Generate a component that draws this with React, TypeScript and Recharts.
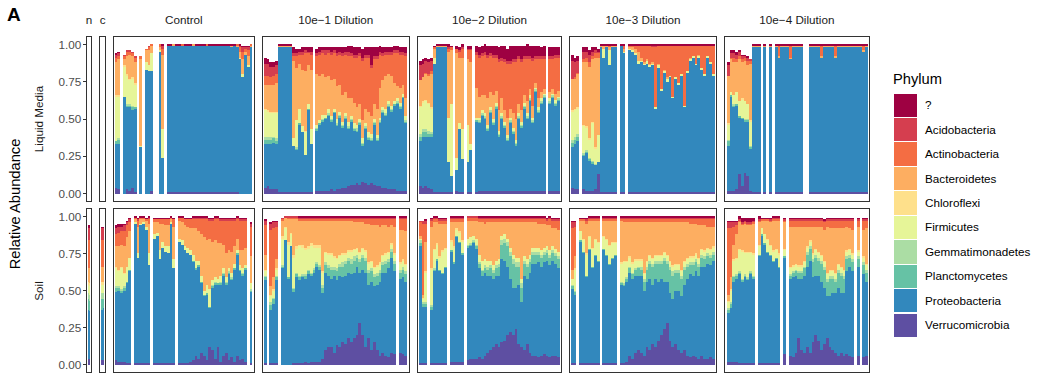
import { BarChart, Bar, XAxis, YAxis } from 'recharts';

// stack order, bottom to top; each bar below is a tuple in this order (percent)
const PHYLA = [
  'Verrucomicrobia',
  'Proteobacteria',
  'Planctomycetes',
  'Gemmatimonadetes',
  'Firmicutes',
  'Chloroflexi',
  'Bacteroidetes',
  'Actinobacteria',
  'Acidobacteria',
  '?',
];
const COLORS = ['#5E4FA2', '#3288BD', '#66C2A5', '#ABDDA4', '#E6F598', '#FEE08B', '#FDAE61', '#F46D43', '#D53E4F', '#9E0142'];

const FACETS = ['n', 'c', 'Control', '10e\u22121 Dilution', '10e\u22122 Dilution', '10e\u22123 Dilution', '10e\u22124 Dilution'];
const ROWS = ['Liquid Media', 'Soil'];
const Y_TICKS = [0, 0.25, 0.5, 0.75, 1];

const G: number[] = []; // missing sample

const liquidN = [G, G];
const liquidC = [G, G];
const liquidControl = [
  [4, 29, 2, 0, 30, 1, 22, 3, 2, 1], [3, 30, 3, 1, 28, 1, 24, 2, 2, 1], G, [0, 65, 0, 0, 20, 1, 4, 2, 1, 0],
  [3, 55, 1, 1, 19, 1, 12, 3, 1, 0], [2, 56, 1, 1, 16, 1, 16, 2, 1, 0], [4, 52, 2, 1, 18, 1, 14, 2, 1, 0],
  [1, 56, 1, 0, 15, 1, 14, 3, 1, 0], G, [0, 31, 0, 0, 1, 0, 58, 2, 0, 0], G, [0, 83, 0, 0, 5, 0, 8, 1, 0, 0],
  [0, 82, 0, 0, 4, 0, 10, 2, 1, 0], [2, 80, 0, 0, 12, 0, 5, 1, 0, 0], G, G, [0, 95, 0, 0, 1, 0, 2, 2, 0, 0],
  [0, 24, 0, 0, 19, 0, 50, 4, 2, 1], G,
  [1, 98, 0, 0, 0, 0, 0, 0, 0, 1], [1, 98, 0, 0, 0, 0, 0, 0, 0, 1], [1, 98, 0, 0, 0, 0, 1, 0, 0, 0],
  [1, 98, 0, 0, 0, 0, 0, 0, 0, 1], [1, 98, 0, 0, 0, 0, 0, 0, 0, 1], [1, 98, 0, 0, 0, 0, 0, 1, 0, 0],
  [1, 98, 0, 0, 0, 0, 0, 0, 0, 1], [1, 98, 0, 0, 0, 0, 0, 0, 0, 1], [1, 98, 0, 0, 0, 0, 0, 0, 0, 1],
  [1, 98, 0, 0, 0, 0, 1, 0, 0, 0], [1, 98, 0, 0, 0, 0, 0, 0, 0, 1], [1, 98, 0, 0, 0, 0, 0, 0, 0, 1],
  [1, 98, 0, 0, 0, 0, 0, 0, 0, 1], [1, 98, 0, 0, 0, 0, 0, 0, 0, 1], [1, 98, 0, 0, 0, 0, 0, 1, 0, 0],
  [1, 98, 0, 0, 0, 0, 0, 0, 0, 1], [1, 98, 0, 0, 0, 0, 0, 0, 0, 1], [1, 98, 0, 0, 0, 0, 0, 0, 0, 1],
  [1, 98, 0, 0, 0, 0, 0, 0, 0, 1], [1, 98, 0, 0, 0, 0, 0, 0, 0, 1], [1, 98, 0, 0, 0, 0, 0, 0, 0, 1],
  [1, 98, 0, 0, 0, 0, 0, 0, 0, 1], [1, 98, 0, 0, 0, 0, 0, 0, 0, 1], [1, 97, 0, 0, 0, 0, 1, 0, 0, 1],
  [1, 98, 0, 0, 0, 0, 0, 0, 0, 1],
  [1, 97, 0, 0, 0, 0, 1, 1, 0, 0], [0, 90, 0, 0, 1, 0, 4, 3, 1, 1], [0, 78, 0, 0, 2, 0, 10, 5, 3, 1],
  [0, 93, 0, 0, 0, 0, 2, 2, 1, 1], [0, 85, 0, 0, 1, 0, 6, 4, 2, 1], [0, 98, 0, 0, 0, 0, 1, 1, 0, 0],
];
const liquidD1 = [
  [4, 29, 3, 2, 18, 1, 16, 6, 8, 4], [5, 28, 3, 2, 17, 1, 17, 6, 8, 3], [3, 30, 3, 2, 16, 1, 18, 5, 7, 3],
  [3, 31, 3, 1, 16, 1, 18, 6, 6, 3], [3, 30, 2, 2, 17, 1, 19, 6, 6, 3],
  [1, 97, 0, 0, 0, 0, 1, 0, 0, 1], [1, 97, 0, 0, 0, 0, 1, 0, 0, 1], [1, 97, 0, 0, 0, 0, 1, 0, 0, 1],
  [1, 97, 0, 0, 0, 0, 1, 0, 0, 1], [1, 97, 0, 0, 0, 0, 1, 0, 0, 1],
  [1, 31, 0, 0, 5, 0, 52, 3, 2, 4], [1, 28, 1, 1, 18, 0, 35, 8, 2, 3], [1, 45, 1, 0, 10, 0, 30, 6, 2, 2],
  [1, 40, 0, 0, 4, 0, 38, 10, 2, 3], [1, 25, 0, 0, 15, 1, 40, 12, 2, 2], [1, 55, 1, 0, 3, 0, 26, 8, 1, 3],
  [1, 32, 0, 0, 10, 0, 40, 10, 2, 3], G,
  [2, 40, 1, 1, 2, 0, 34, 12, 2, 3], [2, 44, 1, 0, 2, 0, 30, 14, 2, 3], [2, 46, 1, 1, 3, 0, 27, 14, 2, 2],
  [2, 48, 1, 0, 2, 0, 25, 15, 3, 2], [2, 50, 1, 1, 3, 0, 22, 15, 2, 2], [3, 45, 1, 1, 2, 0, 24, 17, 2, 3],
  [2, 52, 1, 0, 2, 0, 20, 17, 2, 2], [3, 42, 1, 1, 3, 0, 22, 20, 2, 4], [3, 48, 1, 1, 2, 0, 18, 20, 2, 3],
  [4, 40, 1, 1, 2, 0, 18, 26, 2, 4], [4, 46, 1, 1, 2, 0, 14, 25, 2, 3], [5, 38, 1, 1, 3, 0, 16, 28, 3, 4],
  [6, 42, 1, 1, 2, 0, 12, 28, 2, 5], [6, 36, 1, 1, 3, 0, 14, 30, 2, 5], [7, 34, 1, 2, 2, 0, 12, 33, 2, 5],
  [6, 40, 1, 1, 2, 0, 10, 32, 2, 4], [8, 24, 1, 1, 3, 0, 12, 40, 2, 6], [7, 36, 1, 1, 2, 0, 10, 34, 2, 5],
  [6, 30, 1, 1, 3, 0, 14, 36, 2, 5], [7, 28, 1, 1, 3, 0, 12, 32, 2, 12], [6, 40, 1, 1, 2, 0, 10, 30, 2, 6],
  [5, 30, 1, 1, 2, 0, 18, 33, 2, 6], [5, 42, 1, 1, 2, 0, 20, 22, 2, 4], [4, 50, 1, 1, 2, 0, 18, 16, 2, 4],
  [4, 48, 1, 1, 3, 0, 22, 14, 2, 3], [3, 55, 1, 1, 2, 0, 18, 13, 2, 3], [3, 52, 1, 1, 2, 0, 20, 14, 2, 3],
  [3, 56, 1, 0, 2, 0, 12, 20, 2, 3], [2, 58, 1, 1, 2, 0, 8, 22, 2, 3], [2, 55, 1, 1, 2, 0, 10, 22, 2, 3],
  [2, 62, 1, 0, 2, 0, 6, 20, 2, 3], [2, 45, 1, 1, 3, 0, 12, 28, 2, 4],
];
const liquidD2 = [
  [5, 30, 3, 2, 18, 1, 17, 0, 10, 3], [4, 34, 3, 2, 18, 1, 16, 0, 9, 3], [5, 33, 3, 2, 19, 1, 17, 1, 8, 2],
  [4, 34, 2, 2, 18, 1, 18, 1, 8, 2], [3, 35, 2, 1, 16, 1, 22, 2, 7, 2], [1, 86, 0, 0, 4, 0, 6, 1, 0, 1],
  [1, 97, 0, 0, 0, 0, 1, 0, 0, 1], [1, 97, 0, 0, 0, 0, 1, 0, 0, 1], [1, 97, 0, 0, 0, 0, 1, 0, 0, 1],
  [1, 97, 0, 0, 0, 0, 1, 0, 0, 1], [1, 20, 0, 0, 30, 0, 44, 2, 1, 2], [1, 11, 0, 0, 48, 0, 36, 2, 0, 1], G,
  [2, 14, 0, 0, 8, 0, 70, 3, 0, 2], [1, 42, 0, 0, 4, 0, 44, 4, 1, 2], [1, 22, 0, 0, 20, 0, 48, 6, 1, 2], G,
  [1, 20, 0, 0, 25, 0, 44, 6, 1, 2], [1, 28, 0, 0, 4, 0, 55, 8, 1, 2], G,
  [1, 47, 1, 0, 2, 0, 20, 22, 2, 4], [2, 45, 1, 1, 2, 0, 14, 26, 2, 5], [2, 50, 1, 1, 2, 0, 10, 26, 2, 5],
  [2, 48, 1, 1, 2, 0, 12, 27, 2, 5], [2, 40, 1, 1, 2, 0, 18, 27, 2, 6], [2, 52, 1, 1, 2, 0, 10, 24, 2, 5],
  [2, 44, 1, 1, 2, 0, 16, 25, 2, 6], [2, 55, 1, 1, 2, 0, 8, 22, 2, 6], [2, 36, 1, 1, 2, 0, 14, 32, 2, 8],
  [2, 48, 1, 1, 2, 0, 10, 25, 2, 8], [2, 42, 1, 1, 2, 0, 8, 32, 2, 9], [2, 33, 1, 1, 2, 0, 12, 36, 2, 8],
  [2, 45, 1, 1, 2, 0, 6, 30, 2, 10], [2, 38, 1, 1, 2, 0, 10, 34, 2, 9], [2, 30, 1, 1, 2, 0, 14, 38, 2, 9],
  [2, 48, 1, 1, 2, 0, 6, 30, 2, 7], [2, 42, 1, 1, 2, 0, 8, 32, 2, 9], [2, 55, 1, 1, 2, 0, 5, 24, 2, 7],
  [2, 48, 1, 1, 2, 0, 8, 28, 2, 8], [2, 60, 1, 1, 2, 0, 4, 20, 2, 7], [2, 45, 1, 1, 2, 0, 8, 30, 2, 8],
  [2, 66, 1, 1, 1, 0, 3, 16, 2, 7], [2, 52, 1, 1, 2, 0, 6, 26, 2, 7], [2, 58, 1, 1, 2, 0, 4, 22, 2, 6],
  [2, 62, 1, 1, 1, 0, 3, 20, 2, 7], G, [2, 58, 1, 1, 2, 0, 4, 22, 2, 6], [2, 62, 1, 1, 1, 0, 3, 20, 2, 6],
  [2, 57, 1, 1, 2, 0, 4, 24, 2, 5], [2, 60, 1, 1, 1, 0, 4, 22, 2, 5],
];
const liquidD3 = [
  [4, 27, 3, 2, 19, 1, 21, 0, 12, 4], [3, 30, 3, 2, 18, 1, 20, 1, 10, 3], [3, 32, 3, 2, 17, 1, 22, 1, 8, 3], G,
  [3, 22, 1, 1, 18, 1, 42, 2, 5, 3], [2, 25, 1, 1, 15, 1, 43, 3, 4, 3], [2, 20, 1, 1, 12, 1, 48, 3, 5, 3],
  [2, 18, 1, 1, 25, 1, 42, 2, 3, 3], [3, 16, 0, 1, 10, 1, 60, 3, 2, 2], [13, 8, 0, 0, 18, 0, 52, 3, 1, 2],
  [1, 97, 0, 0, 0, 0, 1, 0, 0, 1], [1, 90, 0, 0, 6, 0, 2, 0, 0, 1], [1, 97, 0, 0, 0, 0, 1, 0, 0, 1],
  [1, 85, 0, 0, 10, 0, 2, 1, 0, 1], [1, 97, 0, 0, 0, 0, 1, 0, 0, 1], [1, 97, 0, 0, 0, 0, 1, 0, 0, 1], G,
  [1, 98, 0, 0, 0, 0, 0, 0, 0, 1], [1, 93, 0, 0, 1, 0, 2, 2, 0, 1], G,
  [1, 95, 0, 0, 1, 0, 1, 1, 0, 1], [1, 94, 0, 0, 1, 0, 2, 1, 0, 1], [1, 92, 0, 0, 1, 0, 3, 2, 0, 1],
  [1, 86, 0, 0, 2, 0, 6, 4, 0, 1], [1, 87, 0, 0, 1, 0, 2, 8, 0, 1], [1, 85, 0, 0, 1, 0, 1, 11, 0, 1],
  [1, 86, 0, 0, 2, 0, 1, 9, 0, 1], [1, 84, 0, 0, 1, 0, 1, 12, 0, 1], [1, 85, 0, 0, 1, 0, 1, 10, 1, 1],
  [1, 56, 0, 0, 1, 0, 0, 40, 1, 1], [1, 83, 0, 0, 2, 0, 1, 12, 0, 1], [1, 68, 0, 0, 1, 0, 0, 29, 0, 1],
  [1, 80, 0, 0, 1, 0, 1, 16, 0, 1], [1, 74, 0, 0, 2, 0, 1, 21, 0, 1], [1, 77, 0, 0, 1, 0, 0, 20, 0, 1],
  [1, 63, 0, 0, 1, 0, 0, 34, 0, 1], [1, 76, 0, 0, 1, 0, 0, 21, 0, 1], [1, 72, 0, 0, 1, 0, 0, 25, 0, 1],
  [1, 78, 0, 0, 1, 0, 0, 19, 0, 1], [1, 57, 0, 0, 1, 0, 0, 40, 0, 1], [1, 80, 0, 0, 1, 0, 0, 17, 0, 1],
  [1, 88, 0, 0, 1, 0, 1, 8, 0, 1], [1, 90, 0, 0, 1, 0, 0, 7, 0, 1], [1, 85, 0, 0, 1, 0, 0, 12, 0, 1],
  [1, 90, 0, 0, 1, 0, 1, 6, 0, 1], [1, 82, 0, 0, 1, 0, 0, 15, 0, 1], [1, 78, 0, 0, 1, 0, 0, 19, 0, 1],
  [1, 90, 0, 0, 1, 0, 0, 7, 0, 1], [1, 86, 0, 0, 1, 0, 0, 11, 0, 1], [1, 78, 0, 0, 1, 0, 0, 19, 0, 1],
];
const liquidD4 = [
  [2, 30, 3, 1, 10, 1, 32, 0, 7, 2], [2, 63, 1, 0, 2, 0, 22, 1, 3, 2], [2, 56, 1, 1, 6, 0, 22, 3, 3, 2],
  [3, 56, 1, 0, 8, 0, 20, 2, 3, 2], [13, 38, 1, 0, 10, 0, 28, 2, 3, 1], [5, 45, 1, 0, 12, 1, 24, 2, 2, 1],
  [14, 34, 1, 1, 12, 0, 27, 2, 1, 1], [12, 36, 1, 1, 10, 0, 26, 3, 2, 1], [2, 28, 1, 1, 16, 1, 38, 2, 1, 0],
  [1, 97, 0, 0, 0, 0, 1, 0, 0, 1], [1, 97, 0, 0, 0, 0, 1, 0, 0, 1], [1, 97, 0, 0, 0, 0, 1, 0, 0, 1], G,
  [1, 97, 0, 0, 0, 0, 1, 0, 0, 1], G, [1, 97, 0, 0, 0, 0, 1, 0, 0, 1], G,
  [1, 97, 0, 0, 0, 0, 1, 0, 0, 1], [1, 90, 0, 0, 0, 0, 1, 7, 0, 1], [1, 97, 0, 0, 0, 0, 1, 0, 0, 1],
  [1, 97, 0, 0, 0, 0, 1, 0, 0, 1], [1, 97, 0, 0, 0, 0, 1, 0, 0, 1], [1, 89, 0, 0, 0, 0, 1, 8, 0, 1],
  [1, 97, 0, 0, 0, 0, 1, 0, 0, 1], [1, 97, 0, 0, 0, 0, 1, 0, 0, 1], [1, 97, 0, 0, 0, 0, 1, 0, 0, 1],
  [1, 97, 0, 0, 0, 0, 1, 0, 0, 1], G, G,
  [1, 97, 0, 0, 0, 0, 1, 0, 0, 1], [1, 97, 0, 0, 0, 0, 1, 0, 0, 1], [1, 97, 0, 0, 0, 0, 1, 0, 0, 1],
  [1, 97, 0, 0, 0, 0, 1, 0, 0, 1], [1, 90, 0, 0, 0, 0, 1, 7, 0, 1], [1, 97, 0, 0, 0, 0, 1, 0, 0, 1],
  [1, 97, 0, 0, 0, 0, 1, 0, 0, 1], [1, 97, 0, 0, 0, 0, 1, 0, 0, 1], [1, 97, 0, 0, 0, 0, 1, 0, 0, 1],
  [1, 90, 0, 0, 0, 0, 1, 7, 0, 1], [1, 97, 0, 0, 0, 0, 1, 0, 0, 1], [1, 97, 0, 0, 0, 0, 1, 0, 0, 1],
  [1, 97, 0, 0, 0, 0, 1, 0, 0, 1], [1, 97, 0, 0, 0, 0, 1, 0, 0, 1], [1, 97, 0, 0, 0, 0, 1, 0, 0, 1],
  [1, 97, 0, 0, 0, 0, 1, 0, 0, 1], [1, 97, 0, 0, 0, 0, 1, 0, 0, 1], [1, 97, 0, 0, 0, 0, 1, 0, 0, 1],
  [1, 97, 0, 0, 0, 0, 1, 0, 0, 1], [1, 94, 0, 0, 0, 0, 1, 3, 0, 1], [1, 97, 0, 0, 0, 0, 1, 0, 0, 1],
];

const soilN = [[4, 33, 7, 4, 6, 2, 9, 19, 8, 2], [4, 32, 7, 4, 6, 2, 10, 19, 8, 2]];
const soilC = [[3, 34, 7, 4, 6, 2, 10, 18, 8, 1], [3, 35, 6, 4, 6, 2, 10, 18, 8, 1]];
const soilControl = [
  [3, 46, 3, 1, 12, 1, 14, 8, 4, 2], [2, 48, 2, 1, 10, 1, 16, 9, 4, 2], [2, 46, 2, 1, 14, 1, 15, 9, 3, 2],
  [2, 48, 2, 1, 8, 1, 18, 10, 4, 1], [1, 54, 1, 0, 10, 0, 20, 8, 2, 1], [1, 62, 1, 0, 8, 0, 18, 6, 2, 1], G,
  [1, 94, 0, 0, 1, 0, 2, 1, 0, 1], [1, 71, 0, 0, 3, 0, 18, 4, 1, 1], [1, 93, 0, 0, 1, 0, 3, 1, 0, 1],
  [1, 94, 0, 0, 1, 0, 2, 1, 0, 1], [1, 90, 0, 0, 2, 0, 4, 1, 0, 1], [1, 66, 0, 0, 8, 0, 20, 3, 1, 1], G,
  [1, 84, 0, 0, 3, 0, 8, 2, 0, 1], [1, 86, 0, 0, 2, 0, 7, 2, 0, 1], [1, 70, 0, 0, 6, 0, 18, 3, 0, 1],
  [1, 78, 0, 0, 4, 0, 12, 3, 0, 1], [1, 75, 0, 0, 4, 0, 14, 4, 0, 1], [1, 74, 0, 0, 5, 0, 14, 4, 0, 1],
  [1, 94, 0, 0, 1, 0, 2, 1, 0, 1], [1, 64, 0, 0, 6, 0, 22, 5, 0, 1], G,
  [1, 82, 0, 0, 2, 0, 12, 2, 0, 1], [1, 80, 0, 0, 3, 0, 12, 3, 0, 1], [1, 76, 0, 0, 3, 0, 14, 4, 0, 1],
  [1, 74, 0, 0, 4, 0, 14, 5, 0, 1], [2, 72, 0, 0, 3, 0, 15, 6, 0, 1], [3, 66, 1, 0, 4, 0, 18, 6, 1, 1],
  [6, 58, 1, 0, 5, 0, 22, 6, 1, 1], [4, 62, 1, 0, 3, 0, 20, 8, 1, 1], [8, 47, 1, 0, 4, 0, 28, 10, 1, 1],
  [6, 40, 1, 0, 3, 0, 36, 12, 1, 1], [3, 44, 1, 0, 6, 0, 30, 14, 1, 1], [12, 26, 1, 0, 12, 0, 34, 12, 1, 1],
  [10, 42, 1, 1, 3, 0, 26, 14, 1, 1], [4, 50, 1, 1, 3, 0, 25, 14, 1, 1], [12, 42, 1, 0, 3, 0, 24, 16, 1, 1],
  [2, 52, 1, 1, 4, 0, 22, 15, 1, 1], [6, 54, 1, 1, 3, 0, 16, 16, 1, 1], [8, 46, 1, 1, 3, 0, 16, 22, 1, 1],
  [3, 58, 1, 1, 2, 0, 12, 20, 1, 1], [5, 52, 1, 1, 3, 0, 14, 21, 1, 1], [2, 62, 1, 0, 3, 0, 12, 17, 1, 1],
  [6, 68, 1, 0, 2, 0, 8, 13, 1, 1], [3, 60, 1, 0, 3, 0, 10, 20, 1, 1], [4, 56, 1, 1, 3, 0, 12, 20, 1, 1],
  [2, 62, 1, 0, 2, 0, 12, 18, 1, 1], G, [1, 48, 1, 1, 4, 0, 18, 20, 2, 1],
];
const soilD1 = [
  [1, 56, 2, 1, 3, 1, 10, 20, 3, 1], G, [1, 36, 3, 2, 4, 1, 6, 38, 4, 1], [1, 40, 3, 1, 5, 1, 8, 33, 4, 1],
  [1, 56, 2, 1, 4, 1, 6, 22, 3, 1], G,
  [0, 65, 1, 1, 18, 2, 10, 1, 1, 0], [0, 84, 0, 0, 8, 1, 6, 0, 1, 0], [0, 58, 1, 0, 22, 2, 15, 1, 1, 0],
  [0, 80, 0, 0, 8, 1, 9, 1, 1, 0], [1, 48, 2, 1, 20, 2, 24, 1, 1, 0], [1, 58, 2, 1, 16, 2, 18, 1, 1, 0],
  [1, 56, 2, 1, 20, 1, 16, 1, 1, 1], [1, 58, 1, 1, 18, 2, 16, 1, 1, 1], [2, 56, 2, 1, 16, 2, 18, 1, 1, 1],
  [1, 60, 2, 1, 14, 2, 17, 1, 1, 1], [2, 58, 1, 1, 18, 2, 15, 1, 1, 1], [2, 60, 2, 1, 14, 2, 16, 1, 1, 1],
  [2, 64, 2, 1, 10, 2, 16, 1, 1, 1], [2, 62, 2, 1, 12, 2, 16, 1, 1, 1], [4, 44, 4, 2, 8, 1, 34, 1, 1, 1],
  [10, 52, 5, 2, 6, 1, 21, 1, 1, 1], [12, 48, 5, 2, 7, 1, 22, 1, 1, 1], [12, 46, 6, 2, 8, 1, 22, 1, 1, 1],
  [8, 52, 4, 2, 6, 1, 24, 1, 1, 1], [13, 44, 6, 2, 6, 1, 25, 1, 1, 1], [12, 48, 6, 2, 5, 1, 23, 1, 1, 1],
  [15, 44, 7, 3, 5, 1, 22, 1, 1, 1], [14, 46, 8, 2, 4, 1, 22, 1, 1, 1], [18, 44, 8, 2, 4, 1, 20, 1, 1, 1],
  [15, 46, 7, 3, 5, 1, 20, 1, 1, 1], [18, 44, 8, 3, 4, 1, 18, 2, 1, 1], [20, 46, 6, 2, 4, 1, 17, 2, 1, 1],
  [28, 34, 7, 2, 4, 1, 20, 2, 1, 1], [20, 44, 8, 2, 4, 1, 17, 2, 1, 1], [12, 50, 8, 2, 4, 1, 18, 3, 1, 1],
  [18, 36, 8, 2, 4, 1, 26, 3, 1, 1], [10, 46, 7, 2, 4, 1, 24, 4, 1, 1], [15, 38, 6, 2, 4, 1, 28, 4, 1, 1],
  [10, 44, 6, 2, 4, 1, 27, 4, 1, 1], [6, 50, 6, 2, 4, 1, 24, 5, 1, 1], [8, 54, 5, 2, 4, 1, 20, 4, 1, 1],
  [6, 56, 6, 2, 4, 1, 19, 4, 1, 1], [5, 60, 4, 2, 4, 1, 17, 5, 1, 1], [8, 64, 4, 2, 3, 1, 12, 4, 1, 1],
  [7, 56, 5, 2, 4, 1, 18, 5, 1, 1], G, [8, 50, 4, 2, 4, 1, 22, 7, 1, 1], [7, 52, 5, 2, 4, 1, 20, 7, 1, 1],
  [6, 50, 5, 2, 4, 1, 22, 8, 1, 1],
];
const soilD2 = [
  [1, 79, 2, 2, 1, 0, 2, 9, 1, 0], [1, 38, 2, 1, 2, 1, 2, 48, 2, 0], [1, 38, 2, 1, 20, 1, 20, 12, 2, 1], G,
  [1, 36, 2, 1, 24, 1, 28, 4, 1, 1], [1, 62, 1, 1, 12, 1, 18, 2, 1, 1], [1, 69, 1, 0, 10, 1, 14, 2, 1, 1],
  [1, 62, 1, 0, 8, 1, 22, 2, 1, 1], [1, 60, 1, 0, 14, 1, 18, 2, 1, 1], [1, 64, 1, 0, 12, 1, 16, 2, 1, 1], G,
  [2, 74, 1, 0, 6, 1, 12, 2, 1, 1], [2, 66, 1, 0, 10, 1, 16, 2, 1, 1], [2, 84, 1, 0, 4, 1, 4, 2, 1, 1],
  [2, 80, 1, 0, 6, 1, 6, 2, 1, 1], [2, 72, 1, 0, 8, 1, 12, 2, 1, 1], G,
  [3, 76, 1, 1, 4, 0, 12, 2, 1, 0], [4, 76, 1, 1, 4, 0, 11, 2, 1, 0], [4, 78, 1, 1, 3, 0, 10, 2, 1, 0],
  [4, 74, 2, 1, 4, 0, 12, 2, 1, 0], [5, 60, 3, 1, 5, 0, 22, 2, 1, 1], [4, 56, 3, 1, 6, 0, 26, 2, 1, 1],
  [6, 56, 3, 2, 4, 0, 24, 3, 1, 1], [8, 52, 4, 2, 4, 0, 26, 2, 1, 1], [10, 50, 5, 2, 3, 0, 26, 2, 1, 1],
  [12, 46, 4, 2, 3, 0, 29, 2, 1, 1], [14, 46, 5, 2, 3, 0, 26, 2, 1, 1], [12, 48, 6, 2, 3, 0, 25, 2, 1, 1],
  [15, 56, 10, 3, 3, 0, 9, 2, 1, 1], [16, 54, 12, 3, 3, 0, 8, 2, 1, 1], [20, 46, 14, 3, 2, 0, 11, 2, 1, 1],
  [22, 36, 15, 3, 3, 0, 17, 2, 1, 1], [20, 32, 16, 3, 3, 0, 22, 2, 1, 1], [24, 28, 14, 3, 3, 0, 24, 2, 1, 1],
  [14, 40, 12, 3, 3, 0, 24, 2, 1, 1], [12, 30, 10, 3, 3, 0, 38, 2, 1, 1], [10, 50, 8, 2, 3, 0, 23, 2, 1, 1],
  [14, 44, 8, 2, 3, 0, 25, 2, 1, 1], [8, 54, 7, 2, 3, 0, 22, 2, 1, 1], [6, 62, 6, 2, 3, 0, 17, 2, 1, 1],
  [6, 62, 6, 2, 3, 0, 17, 2, 1, 1], [5, 64, 5, 2, 3, 0, 16, 3, 1, 1], [6, 60, 6, 2, 3, 0, 18, 3, 1, 1],
  [7, 62, 5, 2, 3, 0, 16, 3, 1, 1], [6, 64, 5, 2, 3, 0, 14, 3, 1, 1], [5, 62, 5, 2, 3, 0, 17, 4, 1, 1],
  [6, 64, 5, 2, 3, 0, 12, 5, 1, 1], [6, 62, 5, 2, 3, 0, 14, 5, 1, 1], [5, 60, 6, 2, 3, 0, 15, 6, 1, 1],
];
const soilD3 = [
  [1, 50, 2, 1, 4, 0, 6, 28, 4, 1], [1, 46, 2, 1, 14, 1, 8, 20, 3, 1], G,
  [1, 82, 1, 0, 6, 0, 7, 1, 0, 1], [1, 74, 1, 0, 8, 1, 12, 1, 0, 1], [1, 58, 1, 0, 14, 1, 20, 2, 1, 1],
  [1, 76, 1, 0, 8, 1, 10, 1, 1, 1], [1, 64, 1, 0, 12, 1, 18, 1, 1, 1], [1, 72, 1, 0, 10, 1, 12, 1, 1, 1],
  [1, 68, 1, 0, 12, 1, 14, 1, 1, 1], G,
  [1, 76, 1, 0, 8, 1, 10, 1, 1, 1], [1, 72, 1, 0, 10, 1, 12, 1, 1, 1], [1, 66, 1, 0, 12, 1, 16, 1, 1, 1],
  [1, 70, 1, 0, 10, 1, 14, 1, 1, 1], [1, 72, 1, 0, 8, 1, 14, 1, 1, 1], G,
  [1, 53, 1, 1, 12, 1, 28, 1, 1, 1], [1, 52, 1, 1, 14, 1, 26, 2, 1, 1], [2, 54, 2, 1, 10, 1, 26, 2, 1, 1],
  [6, 56, 3, 1, 6, 1, 23, 2, 1, 1], [4, 54, 3, 1, 6, 1, 27, 2, 1, 1], [8, 52, 4, 1, 5, 1, 25, 2, 1, 1],
  [10, 50, 5, 1, 4, 1, 25, 2, 1, 1], [8, 52, 4, 2, 4, 1, 25, 2, 1, 1], [6, 44, 6, 2, 3, 1, 34, 2, 1, 1],
  [12, 44, 8, 2, 3, 1, 26, 2, 1, 1], [10, 48, 10, 2, 3, 1, 22, 2, 1, 1], [14, 40, 12, 2, 3, 1, 24, 2, 1, 1],
  [12, 46, 10, 2, 3, 1, 22, 2, 1, 1], [16, 40, 12, 2, 3, 1, 22, 2, 1, 1], [20, 38, 10, 2, 3, 1, 22, 2, 1, 1],
  [24, 32, 14, 2, 3, 1, 20, 2, 1, 1], [28, 28, 12, 2, 3, 1, 22, 2, 1, 1], [16, 32, 16, 2, 3, 1, 26, 2, 1, 1],
  [12, 32, 16, 3, 3, 1, 29, 2, 1, 1], [14, 36, 12, 2, 3, 1, 28, 2, 1, 1], [10, 40, 12, 2, 3, 1, 28, 2, 1, 1],
  [8, 38, 12, 2, 3, 1, 32, 2, 1, 1], [10, 44, 10, 2, 3, 1, 26, 2, 1, 1], [6, 52, 8, 2, 3, 1, 24, 2, 1, 1],
  [5, 56, 6, 2, 3, 1, 22, 3, 1, 1], [6, 54, 7, 2, 3, 1, 22, 3, 1, 1], [5, 58, 6, 2, 3, 1, 20, 3, 1, 1],
  [4, 56, 6, 2, 3, 1, 22, 4, 1, 1], [6, 60, 6, 2, 3, 1, 16, 4, 1, 1], [4, 62, 5, 2, 3, 1, 17, 4, 1, 1],
  [4, 64, 5, 2, 3, 1, 14, 5, 1, 1], [5, 62, 5, 2, 3, 1, 15, 5, 1, 1], [4, 66, 4, 2, 3, 1, 13, 5, 1, 1],
];
const soilD4 = [
  [2, 33, 2, 1, 4, 1, 4, 45, 4, 1], [2, 36, 3, 1, 8, 1, 8, 33, 4, 1], [2, 54, 3, 1, 10, 1, 10, 12, 3, 1],
  [2, 56, 2, 1, 10, 1, 16, 6, 2, 1], [1, 60, 1, 1, 14, 1, 18, 1, 1, 2], [1, 55, 1, 1, 18, 1, 17, 1, 1, 3],
  [1, 58, 1, 1, 14, 1, 19, 1, 1, 2], [1, 56, 1, 1, 16, 1, 18, 1, 1, 3], [1, 60, 1, 1, 12, 1, 18, 1, 1, 3],
  [1, 57, 1, 1, 14, 1, 20, 1, 1, 2], G,
  [1, 72, 1, 0, 6, 1, 15, 1, 1, 2], [1, 86, 1, 0, 4, 0, 5, 1, 0, 1], [1, 80, 1, 0, 6, 0, 9, 1, 0, 1],
  [1, 74, 1, 0, 8, 1, 12, 1, 0, 1], [1, 72, 1, 0, 6, 1, 15, 1, 1, 1], [1, 68, 1, 0, 6, 1, 20, 1, 1, 1],
  [1, 70, 1, 0, 5, 1, 19, 1, 1, 1], [1, 64, 1, 0, 8, 1, 22, 1, 1, 1], G, [7, 65, 1, 0, 4, 1, 18, 1, 1, 1], G,
  [6, 52, 2, 1, 4, 1, 27, 4, 1, 1], [5, 54, 3, 1, 3, 1, 26, 4, 1, 1], [8, 52, 3, 1, 3, 1, 25, 4, 1, 1],
  [18, 40, 4, 1, 3, 1, 26, 4, 1, 1], [10, 48, 4, 1, 3, 1, 26, 4, 1, 1], [8, 52, 5, 1, 3, 1, 23, 4, 1, 1],
  [12, 54, 8, 2, 3, 1, 13, 4, 1, 1], [8, 62, 8, 2, 3, 1, 9, 4, 1, 1], [15, 44, 10, 2, 3, 1, 18, 4, 1, 1],
  [20, 40, 12, 2, 3, 1, 15, 4, 1, 1], [16, 44, 10, 2, 3, 1, 17, 4, 1, 1], [10, 46, 12, 2, 3, 1, 19, 4, 1, 1],
  [14, 38, 12, 2, 3, 1, 21, 5, 1, 1], [18, 28, 10, 2, 3, 1, 31, 4, 1, 1], [12, 34, 12, 2, 3, 1, 28, 5, 1, 1],
  [10, 38, 10, 2, 3, 1, 28, 5, 1, 1], [8, 40, 8, 2, 3, 1, 30, 5, 1, 1], [6, 46, 10, 2, 3, 1, 24, 5, 1, 1],
  [8, 40, 12, 2, 3, 1, 26, 5, 1, 1], [6, 42, 10, 2, 3, 1, 28, 5, 1, 1], [7, 56, 8, 2, 3, 1, 16, 4, 1, 1],
  [6, 60, 6, 2, 3, 1, 14, 5, 1, 1], [5, 58, 6, 2, 3, 1, 16, 6, 1, 1], G, [6, 60, 5, 2, 3, 1, 16, 4, 1, 1], G,
  [5, 56, 6, 2, 3, 1, 18, 6, 1, 1], [6, 50, 6, 2, 3, 1, 24, 5, 1, 1],
];

const LIQUID = [liquidN, liquidC, liquidControl, liquidD1, liquidD2, liquidD3, liquidD4];
const SOIL = [soilN, soilC, soilControl, soilD1, soilD2, soilD3, soilD4];

// panel geometry (px)
const COL_LEFT = [86.8, 99.8, 113.3, 262.3, 417.3, 569.3, 724.5];
const COL_WIDTH = [4.3, 5.5, 141, 147, 144.4, 147.4, 144.8];
const ROW_TOP = [37, 209];
const ROW_HEIGHT = [164, 163];
const AXIS_W = 60;

const FONT = '"Liberation Sans", Arial, Helvetica, sans-serif';

const toRows = (bars: number[][]) =>
  bars.map((b, i) => {
    const row: Record<string, number | string> = { id: `s${i}` };
    PHYLA.forEach((p, j) => {
      row[p] = (b[j] || 0) / 100;
    });
    return row;
  });

function Panel({ bars, left, top, width, height, axis }: {
  bars: number[][]; left: number; top: number; width: number; height: number; axis: boolean;
}) {
  const unit = width / (bars.length + 1.2);
  const pad = unit * 0.6;
  const aw = axis ? AXIS_W : 0;
  return (
    <div style={{ position: 'absolute', left: left - aw, top, width: width + aw, height }}>
      <BarChart
        width={width + aw}
        height={height}
        data={toRows(bars)}
        margin={{ top: 0, right: 0, bottom: 0, left: 0 }}
        barCategoryGap={0}
        barGap={0}
        barSize={unit * 0.99999}
      >
        <XAxis dataKey="id" hide padding={{ left: pad, right: pad }} />
        <YAxis
          hide={!axis}
          width={aw}
          type="number"
          domain={[-0.05, 1.05]}
          ticks={Y_TICKS}
          tickFormatter={(v: number) => v.toFixed(2)}
          axisLine={false}
          tickLine={{ stroke: '#333333' }}
          tickSize={3.7}
          tick={{ fontSize: 11.7, fill: '#4D4D4D', fontFamily: FONT }}
        />
        {PHYLA.map((p, j) => (
          <Bar key={p} dataKey={p} stackId="a" fill={COLORS[j]} isAnimationActive={false} />
        ))}
      </BarChart>
      <div
        style={{
          position: 'absolute',
          left: aw - 0.65,
          top: -0.65,
          width: width + 1.3,
          height: height + 1.3,
          border: '1.3px solid #333333',
          boxSizing: 'border-box',
          pointerEvents: 'none',
        }}
      />
    </div>
  );
}

export default function App() {
  const grid = [LIQUID, SOIL];
  return (
    <div
      style={{
        position: 'absolute',
        left: 0,
        top: 0,
        width: 1042,
        height: 373,
        background: '#fff',
        fontFamily: FONT,
        overflow: 'hidden',
        shapeRendering: 'crispEdges',
      }}
    >
      <div style={{ position: 'absolute', left: 7, top: 4, fontSize: 19, fontWeight: 'bold', color: '#000' }}>A</div>

      {FACETS.map((f, i) => (
        <div
          key={f}
          style={{
            position: 'absolute',
            left: COL_LEFT[i] + COL_WIDTH[i] / 2 - 60,
            width: 120,
            top: 13,
            textAlign: 'center',
            fontSize: 11.7,
            lineHeight: '14px',
            color: '#1A1A1A',
          }}
        >
          {f}
        </div>
      ))}

      {ROWS.map((r, ri) => (
        <div
          key={r}
          style={{
            position: 'absolute',
            left: 39 - 60,
            top: ROW_TOP[ri] + ROW_HEIGHT[ri] / 2 - 7,
            width: 120,
            textAlign: 'center',
            fontSize: 11.7,
            lineHeight: '14px',
            color: '#1A1A1A',
            transform: 'rotate(-90deg)',
          }}
        >
          {r}
        </div>
      ))}

      <div
        style={{
          position: 'absolute',
          left: 15 - 100,
          top: 204 - 9,
          width: 200,
          textAlign: 'center',
          fontSize: 14.7,
          lineHeight: '18px',
          color: '#000',
          transform: 'rotate(-90deg)',
        }}
      >
        Relative Abundance
      </div>

      {grid.map((row, ri) =>
        row.map((bars, ci) => (
          <Panel
            key={`${ri}-${ci}`}
            bars={bars}
            left={COL_LEFT[ci]}
            top={ROW_TOP[ri]}
            width={COL_WIDTH[ci]}
            height={ROW_HEIGHT[ri]}
            axis={ci === 0}
          />
        ))
      )}

      <div style={{ position: 'absolute', left: 893, top: 70, fontSize: 14.7, lineHeight: '18px', color: '#000' }}>Phylum</div>
      {PHYLA.slice().reverse().map((p, i) => (
        <div key={p}>
          <div
            style={{
              position: 'absolute',
              left: 894,
              top: 93.5 + i * 24.45,
              width: 23,
              height: 23.4,
              background: COLORS[PHYLA.length - 1 - i],
            }}
          />
          <div
            style={{
              position: 'absolute',
              left: 925,
              top: 93.5 + i * 24.45 + 4.7,
              fontSize: 11.7,
              lineHeight: '14px',
              color: '#000',
              whiteSpace: 'nowrap',
            }}
          >
            {p}
          </div>
        </div>
      ))}
    </div>
  );
}
